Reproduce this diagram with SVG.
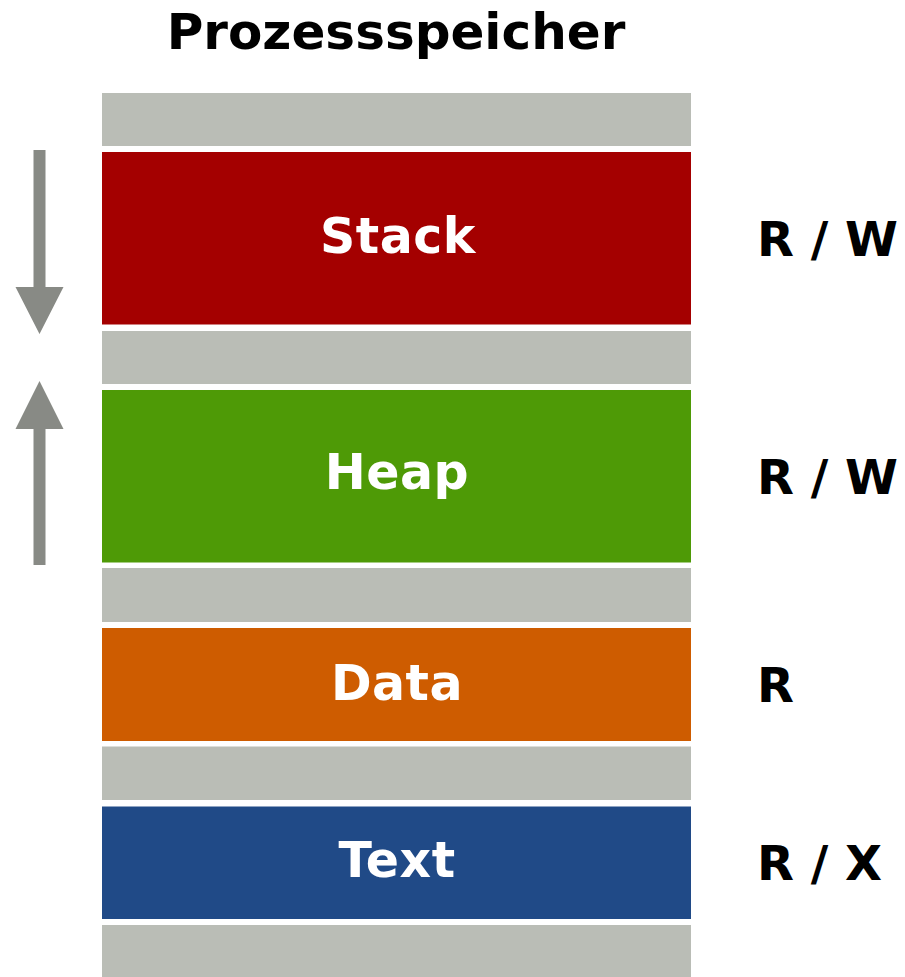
<svg xmlns="http://www.w3.org/2000/svg" width="905" height="977" viewBox="0 0 905 977">
  <style>
    text { font-family: "DejaVu Sans", "Liberation Sans", sans-serif; font-weight: bold; }
    .title { font-size: 50px; fill: #000000; text-anchor: middle; }
    .seg { font-size: 49px; fill: #ffffff; text-anchor: middle; letter-spacing: 0.5px; }
    .perm { font-size: 48px; fill: #000000; }
    .gap { fill: #babdb6; }
    .arrow { fill: #888a85; }
  </style>

  <rect x="0" y="0" width="905" height="977" fill="#ffffff"/>

  <text class="title" x="396" y="49">Prozessspeicher</text>

  <!-- unused address ranges between segments -->
  <g id="gaps">
    <rect class="gap" x="102" y="93" width="589" height="53"/>
    <rect class="gap" x="102" y="331" width="589" height="53"/>
    <rect class="gap" x="102" y="568" width="589" height="54"/>
    <rect class="gap" x="102" y="746.5" width="589" height="53.5"/>
    <rect class="gap" x="102" y="925" width="589" height="52"/>
  </g>

  <g id="stack">
    <rect x="102" y="152" width="589" height="172.5" fill="#a40000"/>
    <text class="seg" x="398" y="253">Stack</text>
    <text class="perm" x="757" y="256">R / W</text>
  </g>

  <g id="heap">
    <rect x="102" y="390" width="589" height="172.5" fill="#4e9a06"/>
    <text class="seg" x="397" y="489">Heap</text>
    <text class="perm" x="757" y="494">R / W</text>
  </g>

  <g id="data">
    <rect x="102" y="628" width="589" height="113" fill="#ce5c00"/>
    <text class="seg" x="397" y="700">Data</text>
    <text class="perm" x="757" y="702">R</text>
  </g>

  <g id="text">
    <rect x="102" y="806.5" width="589" height="112.5" fill="#204a87"/>
    <text class="seg" x="397" y="877">Text</text>
    <text class="perm" x="757" y="880">R / X</text>
  </g>

  <!-- growth directions of stack and heap -->
  <g id="connectors">
    <path class="arrow" d="M33.5,150 H45.5 V287 H63.5 L39.5,334 L15.5,287 H33.5 Z"/>
    <path class="arrow" d="M33.5,565 H45.5 V429 H63.5 L39.5,381 L15.5,429 H33.5 Z"/>
  </g>
</svg>
